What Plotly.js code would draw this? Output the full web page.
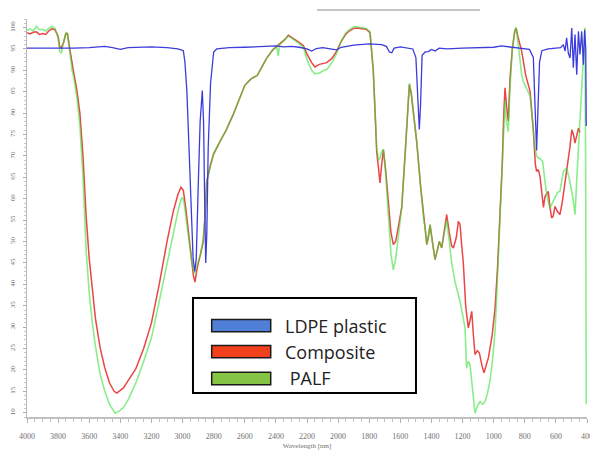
<!DOCTYPE html>
<html>
<head>
<meta charset="utf-8">
<script src="https://cdn.plot.ly/plotly-3.0.1.min.js"></script>
<style>
html,body{margin:0;padding:0;background:#fff;}
#chart{width:590px;height:462px;}
</style>
</head>
<body>
<div id="chart"></div>
<script>
// LDPE plastic
const ldpeWn = [4000,3900,3800,3700,3600,3500,3450,3400,3350,3300,3200,3100,3030,2995,2985,2972,2958,2945,2932,2922,2912,2900,2887,2873,2865,2858,2851,2844,2835,2820,2800,2780,2700,2600,2500,2400,2350,2300,2250,2200,2170,2140,2100,2050,2010,1980,1900,1800,1720,1690,1670,1655,1640,1600,1520,1500,1490,1478,1470,1460,1440,1420,1400,1377,1350,1300,1200,1100,1000,950,900,850,800,770,745,732,724,716,705,690,650,600,570,552,541,531,520,509,498,488,477,466,455,445,434,423,415,408,405];
const ldpeT  = [95.2,95.2,95.1,95.2,95.3,95.6,95.3,94.9,95.3,95.4,95.5,95.3,95.0,94.6,92,85,72,57,46,43,46,62,78,85.3,78,60,45,52,72,87,94.3,95.0,95.3,95.4,95.5,95.7,95.5,95.6,95.4,95.0,94.5,95.1,95.3,95.0,94.8,95.4,95.9,96.2,96.0,95.6,94.3,94.1,95.2,95.5,95.0,93,85,76.2,82,93.5,94.3,94.4,94.9,94.5,95.2,95.0,95.2,95.3,95.4,95.7,95.5,95.3,95.0,94.9,93,80,71.3,80,92,94.6,95.0,95.2,95.3,96,94.5,97.6,94,92.9,99.9,90.6,98.4,89,99.1,93.7,99.1,91.3,99.5,95,77];

// Composite
const compWn = [4000,3980,3960,3940,3920,3900,3880,3860,3840,3820,3800,3790,3780,3765,3750,3740,3725,3710,3700,3680,3660,3640,3620,3600,3580,3560,3530,3500,3470,3440,3423,3400,3380,3350,3300,3250,3200,3150,3100,3060,3030,3010,2995,2980,2960,2945,2930,2920,2905,2885,2867,2855,2845,2820,2800,2759,2720,2674,2640,2600,2560,2520,2502,2460,2420,2395,2370,2340,2320,2300,2260,2224,2200,2170,2150,2120,2090,2073,2040,2009,1980,1950,1924,1900,1881,1850,1820,1795,1785,1774,1762,1752,1740,1731,1720,1709,1695,1680,1660,1645,1630,1610,1591,1570,1555,1542,1530,1515,1495,1470,1450,1441,1430,1420,1409,1395,1377,1362,1349,1334,1318,1302,1285,1270,1259,1240,1227,1216,1206,1195,1180,1163,1150,1141,1130,1120,1105,1092,1075,1062,1045,1034,1010,991,975,959,945,935,927,918,906,895,880,865,856,845,830,820,795,766,745,732,724,713,702,690,680,670,660,649,638,627,617,606,590,574,560,541,530,520,510,498,487,477,466,455,445];
const compT  = [98.8,98.5,98.9,99.0,98.4,98.6,98.4,99.2,99.7,99.5,98,95.6,95.2,96.5,98.6,98.6,95,91,89.5,85.5,80,70,56,46,38.5,32,25.2,20.5,17,15,14.6,15.2,15.8,17.5,20.3,25,31,40,50,57,61,62.7,62,58,52,47,42,40.5,44,47,50,56,64,68,70.5,73.4,76,79.7,83,86.5,88,88.8,90,92.8,94.8,95.6,96.3,97.3,98.2,97.8,96.8,95.8,93.8,91.8,90.8,91.4,91.7,91.8,92.8,94.5,96.8,98.5,99.3,99.8,99.9,99.7,99.6,98.8,95,90,80,71,67,63.7,68,71.5,67,60,52,49.3,50,54,58,70,80,86.7,84.5,80,73.4,63,55,53.2,49.3,51,53.9,50,45.8,48,50,48.5,52,56.3,52,49,48.5,51,54.7,54,49.3,45,35,29.8,32,33.7,28,23.6,24.5,24,21,19.3,21.5,22.8,28,34.5,44,56.3,68,80,85.9,82,78.1,88,95,99,99.9,98,96,94.5,89,85.1,76,68,66.4,66.8,65.2,61,58,60.5,61,61.7,58,55.5,56,58.2,57,56.3,59,64,67,68.7,72,76.1,75,73,75,76.5,75.5];

// PALF
const palfWn = [4000,3980,3960,3940,3920,3900,3880,3860,3840,3820,3800,3790,3780,3765,3750,3740,3725,3710,3700,3680,3660,3640,3620,3600,3580,3560,3530,3500,3470,3440,3434,3410,3380,3350,3300,3250,3200,3150,3100,3060,3030,3010,3000,2990,2975,2960,2940,2925,2905,2885,2867,2855,2845,2820,2800,2759,2720,2674,2640,2600,2560,2520,2502,2460,2420,2395,2385,2375,2340,2320,2300,2260,2224,2200,2170,2150,2120,2090,2073,2040,2009,1980,1950,1924,1900,1881,1850,1820,1795,1785,1774,1762,1752,1740,1731,1720,1709,1695,1680,1660,1645,1630,1610,1591,1570,1555,1542,1530,1515,1495,1470,1450,1441,1430,1420,1409,1395,1377,1362,1349,1334,1318,1302,1285,1270,1249,1230,1216,1200,1184,1174,1163,1152,1135,1120,1105,1088,1070,1056,1040,1024,1008,991,975,959,945,935,927,918,910,906,895,880,865,856,845,830,820,809,790,766,750,735,724,713,700,685,670,654,638,622,606,590,574,552,531,510,490,477,465,455,445,435,423,413,408,405];
const palfT  = [99.3,99.7,99.2,100.3,99.5,99.6,99.2,99.8,100.3,99.8,97.5,94.5,94.0,96.5,98.8,98.5,94,90,88.5,84,77,65,48,38,31,25.5,19,15,12,10.2,9.9,10.3,11.2,13,17,22,27.5,36,45,52,57,59.8,60.3,59,55,50,45,42.5,45,47,50.5,56,64,68,70.5,73.4,76,79.7,83,86.5,88,88.8,90,92.8,94.8,95.6,93.3,96,97.3,98,97.6,96.5,95.5,92.5,90,89.2,89.4,90,90.2,91.8,94,96.8,98.8,99.6,100.2,100.2,100,99.8,99,95,90,80,72,69,69.5,71,71.5,66,57,47,43.4,46,52,58,70,80,87,85,80,73.4,63,55,53.5,49.3,51,54,50,45.8,48,50,48.5,52,55,50,45,40.7,38,36,33,29.8,20.4,22,21.2,15,9.9,11.5,12.6,12,12.6,14.5,17.3,22,29,42,56,68,78,83,78,76,75.7,86,95,99.3,100,97,92,89,87.4,86,84,78,72,70,69.5,69.3,68.7,64,60,57.8,59,60.6,61.5,61.7,66.4,67.2,64,60,56.3,65,72,77.3,84,91.3,100,60,12];

// Tick labels
const yTicks = [10,15,20,25,30,35,40,45,50,55,60,65,70,75,80,85,90,95,100];
const xTicks = [4000,3800,3600,3400,3200,3000,2800,2600,2400,2200,2000,1800,1600,1400,1200,1000,800,600,400];
const legendNames = ['LDPE plastic','Composite',' PALF'];
const lineColors = ['#3c3cdc','#ec4545','rgba(60,225,60,0.6)'];
const swatchColors = ['#4f7fd6','#f2401c','#86c445'];

const traces = [
  {x: compWn, y: compT, mode:'lines', line:{color:lineColors[1], width:1.5}, name:legendNames[1], showlegend:false},
  {x: palfWn, y: palfT, mode:'lines', line:{color:lineColors[2], width:1.6}, name:legendNames[2], showlegend:false},
  {x: ldpeWn, y: ldpeT, mode:'lines', line:{color:lineColors[0], width:1.3}, name:legendNames[0], showlegend:false}
];

// Legend drawn as shapes + annotations (paper coords)
const shapes = [
  {type:'rect', xref:'paper', yref:'paper', x0:0.2964, x1:0.6946, y0:0.0603, y1:0.299, line:{color:'#000', width:2}, fillcolor:'#fff', layer:'above'},
  {type:'line', xref:'paper', yref:'paper', x0:0.518, x1:0.809, y0:1.0226, y1:1.0226, line:{color:'#c4c4c4', width:2}}
];
const annotations = [];
const rowY = [0.2295, 0.1641, 0.0968];
for (let i=0;i<3;i++){
  shapes.push({type:'rect', xref:'paper', yref:'paper', x0:0.3298, x1:0.4352, y0:rowY[i]-0.0155, y1:rowY[i]+0.0155, line:{color:'#1a1a1a', width:1.5}, fillcolor:swatchColors[i], layer:'above'});
  annotations.push({xref:'paper', yref:'paper', x:0.4572, y:rowY[i], xanchor:'left', yanchor:'middle', text:legendNames[i].replace(' ','&nbsp;'), showarrow:false, font:{family:'Open Sans', size:18, color:'#222'}});
}

const layout = {
  width:590, height:462,
  margin:{l:27, r:3, t:19, b:45, pad:0},
  paper_bgcolor:'#fff', plot_bgcolor:'#fff',
  showlegend:false,
  xaxis:{
    range:[4000,400], tickvals:xTicks, ticktext:xTicks.map(String),
    showgrid:false, zeroline:false,
    showline:true, linecolor:'#c0c0c0', linewidth:2,
    ticks:'outside', ticklen:4, tickcolor:'#b0b0b0', tickwidth:1,
    minor:{dtick:50, tick0:400, ticks:'outside', ticklen:3, tickcolor:'#c0c0c0'},
    tickfont:{family:'Liberation Sans Narrow', size:8, color:'#707070'},
    ticklabelstandoff:6,
    ticklabeloverflow:'allow',
    title:{text:'Wavelength [nm]', font:{family:'Liberation Sans Narrow', size:7, color:'#707070'}, standoff:4}
  },
  yaxis:{
    range:[9,102], tickvals:yTicks, ticktext:yTicks.map(String),
    showgrid:false, zeroline:false,
    showline:true, linecolor:'#b8b8b8', linewidth:1,
    ticks:'outside', ticklen:3, tickcolor:'#aaa',
    minor:{dtick:1, ticks:'outside', ticklen:2, tickcolor:'#c8c8c8'},
    tickangle:-90,
    tickfont:{family:'Liberation Sans Narrow', size:7, color:'#707070'},
    ticklabelstandoff:5,
    ticklabeloverflow:'allow'
  },
  shapes:shapes,
  annotations:annotations
};

Plotly.newPlot('chart', traces, layout, {staticPlot:true, displayModeBar:false});
</script>
</body>
</html>
